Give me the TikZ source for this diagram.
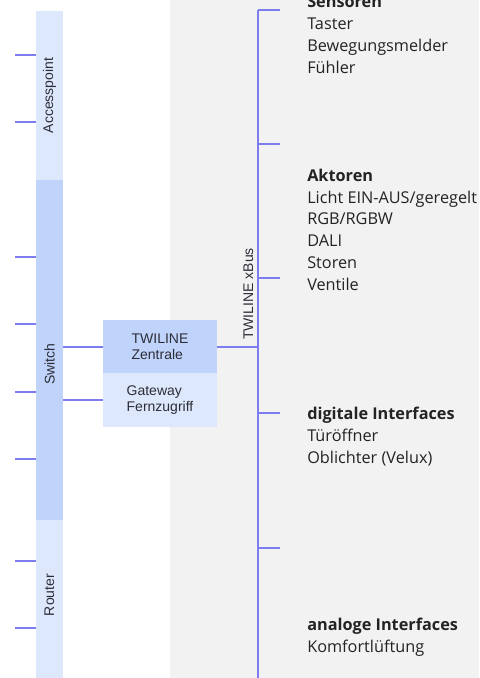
\documentclass[tikz,border=0pt]{standalone}
\usepackage{fontspec}
\usepackage{tikz}
\usetikzlibrary{positioning, fit, calc}
\newfontfamily\arialfont{Liberation Sans}
\newfontfamily\frutfont{Open Sans}
\definecolor{bggray}{RGB}{242, 242, 242}
\definecolor{lightblue}{RGB}{221, 232, 252}
\definecolor{midblue}{RGB}{192, 211, 251}
\definecolor{busblue}{RGB}{125, 125, 240}
\definecolor{labelgray}{RGB}{45, 45, 55}
\definecolor{textgray}{RGB}{35, 35, 35}

\begin{document}
\begin{tikzpicture}[x=0.75pt, y=-0.75pt,
    seg/.style={inner sep=0pt, outer sep=0pt},
    box/.style={inner sep=0pt, outer sep=0pt, minimum width=85.5pt, align=left,
      font=\arialfont\fontsize{10.5}{12}\selectfont, text=labelgray},
    vlabel/.style={rotate=90, font=\arialfont\fontsize{10.5}{12}\selectfont, text=labelgray},
    link/.style={busblue, line width=1.5pt},
    group/.style={anchor=base west, align=left, inner sep=0pt,
      font=\frutfont\fontsize{12.2}{16.3}\selectfont, text=textgray}]
  \useasboundingbox (0,0) rectangle (479,678);

  % Background
  \fill[bggray] (170,0) rectangle (479,678);

  % Left bar
  \node[seg, fill=lightblue, fit={(36,11) (63,180)}] (ap) {};
  \node[seg, fill=midblue, fit={(36,180) (63,520)}] (sw) {};
  \node[seg, fill=lightblue, fit={(36,520) (63,678)}] (rt) {};
  \node[vlabel] at (ap.center) {Accesspoint};
  \node[vlabel] at ($(sw.center)+(0,14)$) {Switch};
  \node[vlabel] at ($(rt.center)+(0,-4)$) {Router};

  % Ports
  \foreach \y [count=\i] in {55,122,257,324,392,459,561,628} {
    \coordinate (t\i) at (15,\y);
    \draw[link] (t\i) -- (t\i -| ap.west);
  }

  % Zentrale and gateway
  \node[box, fill=midblue, minimum height=39.75pt] (zentrale) at (160,346.5) {TWILINE\\Zentrale};
  \node[box, fill=lightblue, minimum height=40.5pt, below=0pt of zentrale] (gateway) {Gateway\\Fernzugriff};
  \draw[link] (zentrale.west) -- (zentrale.west -| sw.east);
  \draw[link] (gateway.west) -- (gateway.west -| sw.east);

  % xBus
  \coordinate (bustop) at (258,10);
  \coordinate (busbot) at (258,678);
  \draw[link] (bustop) -- (busbot);
  \foreach \y [count=\i] in {10,144,278,413,548} {
    \coordinate (b\i) at (280,\y);
    \draw[link] (b\i) -- (b\i -| bustop);
  }
  \draw[link] (zentrale.east) -- (zentrale.east -| bustop);
  \node[vlabel, anchor=base] (xbus) at (253,294) {TWILINE xBus};

  % Device groups (base = last line)
  \node[group] (sensoren) at (307,73) {\textbf{Sensoren}\\Taster\\Bewegungsmelder\\Fühler};
  \node[group] (aktoren) at (307,290) {\textbf{Aktoren}\\Licht EIN-AUS/geregelt\\RGB/RGBW\\DALI\\Storen\\Ventile};
  \node[group] (digital) at (307,463) {\textbf{digitale Interfaces}\\Türöffner\\Oblichter (Velux)};
  \node[group] (analog) at (307,652) {\textbf{analoge Interfaces}\\Komfortlüftung};
\end{tikzpicture}
\end{document}
